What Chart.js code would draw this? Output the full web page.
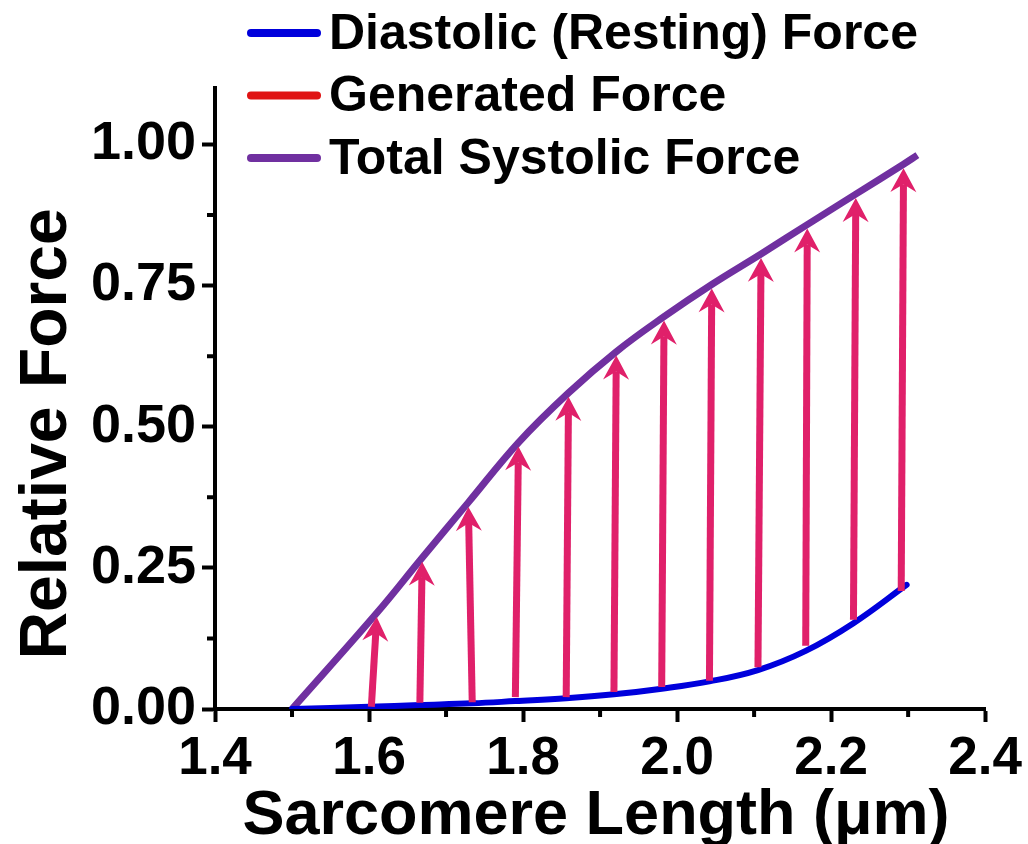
<!DOCTYPE html>
<html>
<head>
<meta charset="utf-8">
<title>Sarcomere Length vs Relative Force</title>
<script src="https://cdn.jsdelivr.net/npm/chart.js@4.4.1/dist/chart.umd.min.js"></script>
<style>
    html, body { margin: 0; padding: 0; background: #fff; }
    #wrap { width: 1028px; height: 844px; position: relative; }
</style>
</head>
<body>
<div id="wrap"><canvas id="forceChart"></canvas></div>
<script>
// Series labels
const diastolicLabel = 'Diastolic (Resting) Force';
const generatedLabel = 'Generated Force';
const systolicLabel = 'Total Systolic Force';

// Diastolic (resting) curve
const diastolicLength = [1.50, 1.60, 1.666, 1.734, 1.790, 1.856, 1.918, 1.980, 2.042, 2.105, 2.167, 2.229, 2.298];
const diastolicForce  = [0.000, 0.004, 0.007, 0.010, 0.014, 0.019, 0.026, 0.036, 0.049, 0.069, 0.103, 0.152, 0.220];

// Total systolic curve
const systolicLength = [1.50, 1.610, 1.669, 1.729, 1.794, 1.859, 1.921, 1.983, 2.045, 2.109, 2.169, 2.232, 2.294, 2.312];
const systolicForce  = [0.000, 0.170, 0.268, 0.366, 0.472, 0.560, 0.633, 0.695, 0.752, 0.806, 0.858, 0.912, 0.965, 0.981];

// Generated force arrows (base on diastolic curve, tip on systolic curve)
const arrowBaseLength = [1.603, 1.666, 1.734, 1.790, 1.856, 1.918, 1.980, 2.042, 2.105, 2.167, 2.229, 2.291];
const arrowBaseForce  = [0.004, 0.011, 0.012, 0.021, 0.021, 0.030, 0.039, 0.050, 0.074, 0.112, 0.158, 0.209];
const arrowTipLength  = [1.610, 1.669, 1.729, 1.794, 1.859, 1.921, 1.983, 2.045, 2.109, 2.169, 2.232, 2.294];
const arrowTipForce   = [0.163, 0.261, 0.358, 0.465, 0.553, 0.626, 0.688, 0.745, 0.799, 0.851, 0.905, 0.958];

// Axis ticks
const xMajorTicks = [1.4, 1.6, 1.8, 2.0, 2.2, 2.4];
const xMinorTicks = [1.5, 1.7, 1.9, 2.1, 2.3];
const yMajorTicks = [0, 0.25, 0.5, 0.75, 1.0];
const yMinorTicks = [0.125, 0.375, 0.625, 0.875];

const BLUE = '#0000dc';
const RED = '#e01414';
const PURPLE = '#7030a0';
const ARROW = '#e0206a';
const FONT = "'Liberation Sans', Arial, sans-serif";

function toPoints(xs, ys) {
    return xs.map((x, i) => ({ x: x, y: ys[i] }));
}

// Minor ticks, arrows, legend and axis titles
const extrasPlugin = {
    id: 'extras',
    afterDatasetsDraw(chart) {
        const ctx = chart.ctx;
        const xs = chart.scales.x;
        const ys = chart.scales.y;

        ctx.save();
        arrowTipLength.forEach((tl, i) => {
            const bx = xs.getPixelForValue(arrowBaseLength[i]);
            const by = ys.getPixelForValue(arrowBaseForce[i]);
            const tx = xs.getPixelForValue(tl);
            const ty = ys.getPixelForValue(arrowTipForce[i]);
            const ang = Math.atan2(ty - by, tx - bx);
            const headLen = 24, headHalf = 13, notch = 16;

            // shaft
            ctx.strokeStyle = ARROW;
            ctx.lineWidth = 7;
            ctx.lineCap = 'butt';
            ctx.beginPath();
            ctx.moveTo(bx, by);
            ctx.lineTo(tx + Math.cos(ang + Math.PI) * notch, ty + Math.sin(ang + Math.PI) * notch);
            ctx.stroke();

            // barbed head
            ctx.translate(tx, ty);
            ctx.rotate(ang + Math.PI / 2);
            ctx.fillStyle = ARROW;
            ctx.beginPath();
            ctx.moveTo(0, 0);
            ctx.lineTo(headHalf, headLen);
            ctx.lineTo(0, notch);
            ctx.lineTo(-headHalf, headLen);
            ctx.closePath();
            ctx.fill();
            ctx.setTransform(1, 0, 0, 1, 0, 0);
        });
        ctx.restore();
    },
    afterDraw(chart) {
        const ctx = chart.ctx;
        const xs = chart.scales.x;
        const ys = chart.scales.y;
        const area = chart.chartArea;

        ctx.save();
        // minor ticks
        ctx.strokeStyle = '#000';
        ctx.lineWidth = 4;
        ctx.beginPath();
        xMinorTicks.forEach(v => {
            const px = xs.getPixelForValue(v);
            ctx.moveTo(px, area.bottom);
            ctx.lineTo(px, area.bottom + 8);
        });
        yMinorTicks.forEach(v => {
            const py = ys.getPixelForValue(v);
            ctx.moveTo(area.left, py);
            ctx.lineTo(area.left - 8, py);
        });
        ctx.stroke();

        // legend
        const items = [
            { label: diastolicLabel, color: BLUE },
            { label: generatedLabel, color: RED },
            { label: systolicLabel, color: PURPLE }
        ];
        ctx.font = 'bold 50px ' + FONT;
        ctx.textBaseline = 'middle';
        ctx.textAlign = 'left';
        items.forEach((item, i) => {
            const y = 33 + i * 62.5;
            ctx.strokeStyle = item.color;
            ctx.lineWidth = 8;
            ctx.lineCap = 'round';
            ctx.beginPath();
            ctx.moveTo(251, y);
            ctx.lineTo(317, y);
            ctx.stroke();
            ctx.fillStyle = '#000';
            ctx.fillText(item.label, 329, y + 2);
        });

        // axis titles
        ctx.font = 'bold 63px ' + FONT;
        ctx.fillStyle = '#000';
        ctx.textAlign = 'center';
        ctx.textBaseline = 'alphabetic';
        ctx.fillText('Sarcomere Length (\u03bcm)', 596, 834);

        ctx.font = 'bold 66px ' + FONT;
        ctx.translate(66, 434);
        ctx.rotate(-Math.PI / 2);
        ctx.fillText('Relative Force', 0, 0);
        ctx.restore();
    }
};

const axisCommon = {
    type: 'linear',
    border: { display: true, color: '#000', width: 4 },
    grid: {
        drawOnChartArea: false,
        drawTicks: true,
        tickLength: 13,
        tickWidth: 4,
        tickColor: '#000'
    }
};

new Chart(document.getElementById('forceChart'), {
    type: 'line',
    data: {
        datasets: [
            {
                label: diastolicLabel,
                data: toPoints(diastolicLength, diastolicForce),
                borderColor: BLUE,
                borderWidth: 6,
                tension: 0.4,
                pointRadius: 0,
                borderCapStyle: 'round'
            },
            {
                label: systolicLabel,
                data: toPoints(systolicLength, systolicForce),
                borderColor: PURPLE,
                borderWidth: 7,
                tension: 0.4,
                pointRadius: 0,
                borderCapStyle: 'butt'
            }
        ]
    },
    options: {
        responsive: true,
        maintainAspectRatio: false,
        animation: false,
        layout: { padding: { top: 88, right: 41, left: 0, bottom: 0 } },
        plugins: {
            legend: { display: false },
            tooltip: { enabled: false }
        },
        scales: {
            x: {
                ...axisCommon,
                min: 1.4,
                max: 2.4,
                afterBuildTicks: scale => {
                    scale.ticks = xMajorTicks.map(v => ({ value: v }));
                },
                afterFit: scale => { scale.height = 135; },
                ticks: {
                    color: '#000',
                    padding: 6,
                    maxRotation: 0,
                    font: { family: FONT, size: 53, weight: 'bold' },
                    callback: v => v.toFixed(1)
                }
            },
            y: {
                ...axisCommon,
                min: 0,
                max: 1.1,
                afterBuildTicks: scale => {
                    scale.ticks = yMajorTicks.map(v => ({ value: v }));
                },
                afterFit: scale => { scale.width = 215; },
                ticks: {
                    color: '#000',
                    padding: 6,
                    font: { family: FONT, size: 54, weight: 'bold' },
                    callback: v => v.toFixed(2)
                }
            }
        }
    },
    plugins: [extrasPlugin]
});
</script>
</body>
</html>
